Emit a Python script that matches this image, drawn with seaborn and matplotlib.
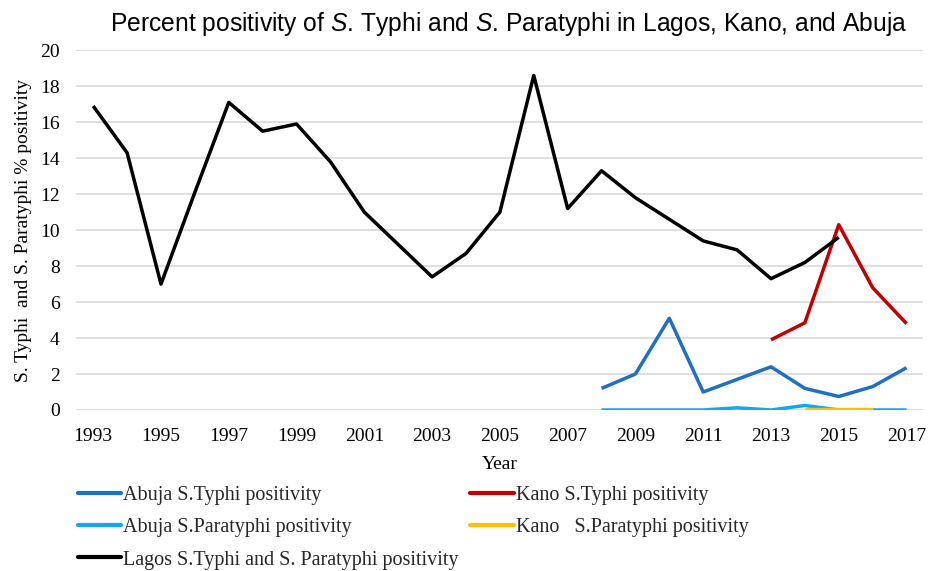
import numpy as np
import pandas as pd
import seaborn as sns
from matplotlib import pyplot as plt
from matplotlib.lines import Line2D

years_lagos = list(range(1993, 2016))
lagos = [16.9, 14.3, 7.0, 12.1, 17.1, 15.5, 15.9, 13.8, 11.0, 9.2, 7.4, 8.7,
         11.0, 18.6, 11.2, 13.3, 11.8, 10.6, 9.4, 8.9, 7.3, 8.2, 9.6]

years_abuja = list(range(2008, 2018))
abuja_typhi = [1.2, 2.0, 5.1, 1.0, 1.7, 2.4, 1.2, 0.75, 1.3, 2.35]
abuja_para = [0.0, 0.0, 0.0, 0.0, 0.12, 0.0, 0.25, 0.0, 0.0, 0.0]

years_kano = list(range(2013, 2018))
kano_typhi = [3.9, 4.85, 10.3, 6.8, 4.8]
years_kano_para = [2014, 2015, 2016]
kano_para = [0.05, 0.05, 0.05]

xticks = list(range(1993, 2018, 2))
yticks = list(range(0, 21, 2))

sns.set_theme(style="white")
plt.rcParams["mathtext.fontset"] = "custom"
plt.rcParams["mathtext.rm"] = "Liberation Sans"
plt.rcParams["mathtext.it"] = "Liberation Sans:italic"
serif = "Liberation Serif"

fig, ax = plt.subplots(figsize=(9.3, 5.71), dpi=100)
fig.subplots_adjust(left=0.082, right=0.993, top=0.912, bottom=0.282)

series = [
    ("Abuja S.Typhi positivity", years_abuja, abuja_typhi, "#1F6FC2"),
    ("Abuja S.Paratyphi positivity", years_abuja, abuja_para, "#12A8EE"),
    ("Kano S.Typhi positivity", years_kano, kano_typhi, "#C00000"),
    ("Kano   S.Paratyphi positivity", years_kano_para, kano_para, "#FFC000"),
    ("Lagos S.Typhi and S. Paratyphi positivity", years_lagos, lagos, "#000000"),
]

for name, xs, ys, col in series:
    df = pd.DataFrame({"year": xs, "val": ys})
    sns.lineplot(data=df, x="year", y="val", ax=ax, color=col, linewidth=2.5,
                 solid_capstyle="butt", zorder=3)

ax.set_xlim(1992.5, 2017.5)
ax.set_ylim(0, 20)
ax.set_xticks(xticks)
ax.set_yticks(yticks)
ax.yaxis.grid(True, color="#D9D9D9", linewidth=1.2)
ax.set_axisbelow(True)
for s in ax.spines.values():
    s.set_visible(False)
ax.tick_params(axis="x", length=0, pad=13)
ax.tick_params(axis="y", length=0, pad=12)
for lab in ax.get_xticklabels() + ax.get_yticklabels():
    lab.set_fontfamily(serif)
    lab.set_fontsize(14)
    lab.set_color("#000000")

ax.set_xlabel("Year", fontfamily=serif, fontsize=14, color="#000000", labelpad=8)
ax.set_ylabel("S. Typhi  and S. Paratyphi % positivity", fontfamily=serif,
              fontsize=14, color="#000000", labelpad=6)

fig.text(509 / 930, 1 - 24 / 571,
         r"Percent positivity of $\mathit{S}$. Typhi and $\mathit{S}$. Paratyphi in Lagos, Kano, and Abuja",
         fontfamily="Liberation Sans", fontsize=17.7, color="#000000",
         ha="center", va="center")

handles = [Line2D([0], [0], color=c, linewidth=3) for _, _, _, c in series]
labels = [n for n, _, _, _ in series]
prop = {"family": serif, "size": 14.5}
leg1 = fig.legend(handles[:4], labels[:4], ncol=2, loc="upper left",
                  bbox_to_anchor=(0.0835, 0.149), frameon=False, prop=prop,
                  handlelength=2.15, handletextpad=0.1, columnspacing=5.9,
                  labelspacing=0.65, borderaxespad=0, borderpad=0)
leg2 = fig.legend(handles[4:], labels[4:], loc="upper left",
                  bbox_to_anchor=(0.0835, 0.036), frameon=False, prop=prop,
                  handlelength=2.15, handletextpad=0.1, borderaxespad=0, borderpad=0)

fig.savefig("out.png", dpi=100)
